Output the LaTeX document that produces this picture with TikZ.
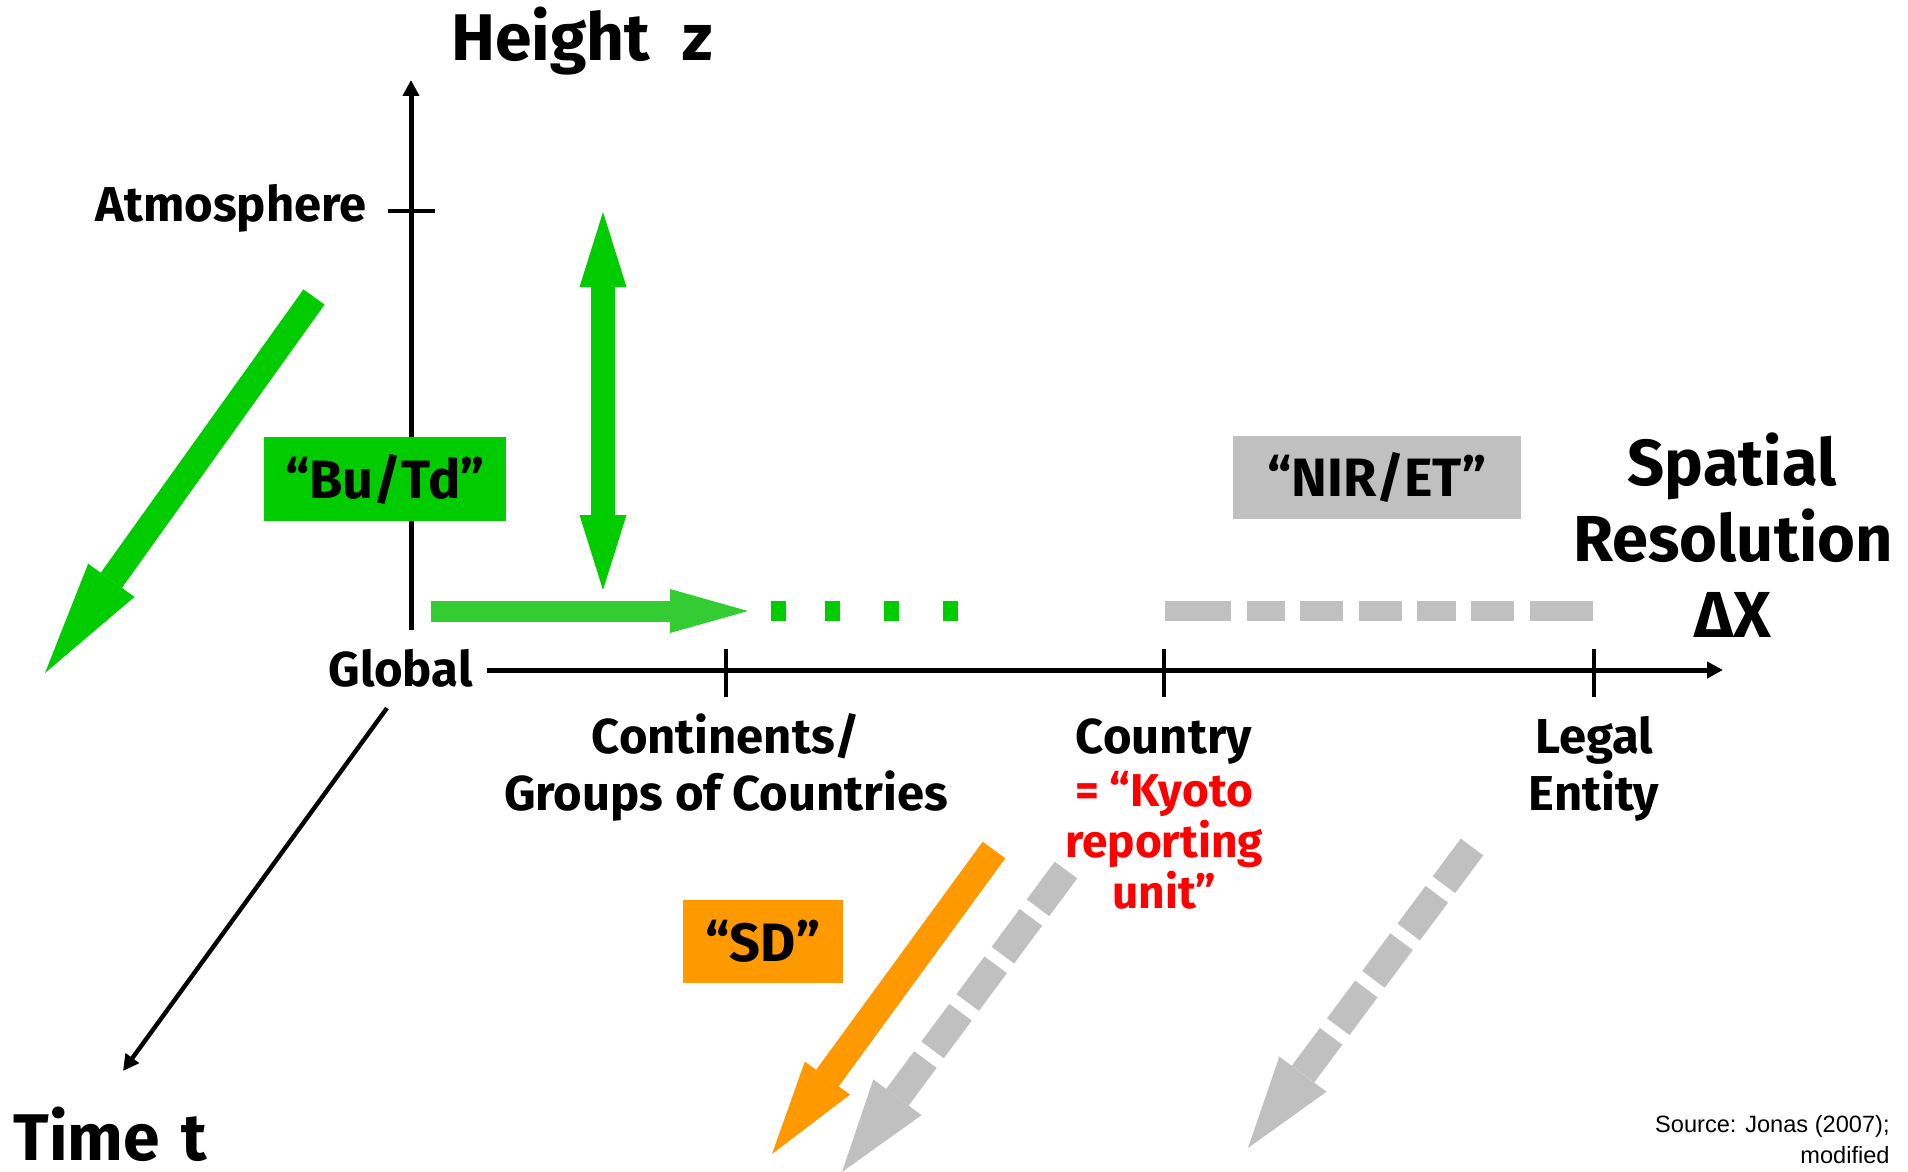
\documentclass[tikz,border=0pt]{standalone}
\usepackage{fontspec}
\setmainfont{Fira Sans}
\newfontfamily\srcfont{Liberation Sans}
\usetikzlibrary{calc,arrows.meta}
\definecolor{bgreen}{HTML}{00CC00}
\definecolor{lgreen}{HTML}{33CC33}
\definecolor{lgrey}{HTML}{C0C0C0}
\definecolor{orng}{HTML}{FF9900}
\definecolor{kred}{HTML}{FF0000}
% start, tip, shaft width, half head width, head length, colour, shaft options
\newcommand\fatarrow[7]{%
  \path ($(#2)!#5!(#1)$) coordinate (fab);
  \draw[#6, line width=#3, #7] (#1) -- (fab);
  \fill[#6] ($(fab)!#4!90:(#2)$) -- (#2) -- ($(fab)!#4!-90:(#2)$) -- cycle;
}
\tikzset{
  lbl/.style={font=\bfseries\fontsize{24.5}{29}\selectfont, inner sep=0pt},
  redlbl/.style={font=\bfseries\fontsize{23}{28}\selectfont, inner sep=0pt, text=kred},
  biglbl/.style={font=\bfseries\fontsize{33}{40}\selectfont, inner sep=0pt},
  xllbl/.style={font=\bfseries\fontsize{32.5}{40}\selectfont, inner sep=0pt},
  boxlbl/.style={font=\bfseries\fontsize{27}{32}\selectfont, inner sep=0pt},
  axis/.style={black, line width=2.5pt, -{Triangle[length=8pt,width=8pt]}},
  tick/.style={black, line width=2pt},
  srclbl/.style={font=\srcfont\fontsize{11.8}{14}\selectfont, inner sep=0pt, anchor=base east},
}
\begin{document}
\begin{tikzpicture}[x=0.5pt,y=-0.5pt]
\useasboundingbox (0,0) rectangle (1908,1172);
\fill[white] (0,0) rectangle (1908,1172);

% axes
\coordinate (zbot) at (411,630);
\coordinate (ztop) at (411,80);
\coordinate (xl) at (487,670);
\coordinate (xr) at (1723,670);
\coordinate (tstart) at (387,708);
\coordinate (tend) at (123,1071);
\draw[axis] (zbot) -- (ztop);
\draw[axis] (xl) -- (xr);
\draw[axis, line width=2.2pt] (tstart) -- (tend);
\coordinate (atmL) at (388,211);
\coordinate (atmR) at (435,211);
\draw[tick] (atmL) -- (atmR);
\foreach \x/\n in {726/a,1164/b,1594/c}{
  \coordinate (tk\n1) at (\x,649);
  \coordinate (tk\n2) at (\x,697);
  \draw[tick] (tk\n1) -- (tk\n2);
}

% axis labels
\node[biglbl, anchor=base west] (hz) at (451,61) {Height\hspace{8.5pt} z};
\node[lbl, anchor=base east] (atm) at (367,221) {Atmosphere};
\node[lbl, anchor=base west] (glob) at (328,686) {Global};
\node[biglbl, anchor=base west] (tt) at (13,1160) {Time\hspace{3pt} t};
\node[xllbl, anchor=base] (sp1) at (1732,485) {Spatial};
\node[xllbl, anchor=base] (sp2) at (1733,561) {Resolution};
\node[xllbl, anchor=base] (sp3) at (1733,637) {ΔX};
\node[lbl, anchor=base] (c1) at (726,753) {Continents/};
\node[lbl, anchor=base] (c2) at (726,810) {Groups of Countries};
\node[lbl, anchor=base] (k1) at (1164,753) {Country};
\node[redlbl, anchor=base] (k2) at (1164,806) {= “Kyoto};
\node[redlbl, anchor=base] (k3) at (1164,857) {reporting};
\node[redlbl, anchor=base] (k4) at (1164,908) {unit”};
\node[lbl, anchor=base] (l1) at (1594,753) {Legal};
\node[lbl, anchor=base] (l2) at (1594,810) {Entity};

% boxes
\node[boxlbl, fill=bgreen, minimum width=121pt, minimum height=42pt] (butd) at (385,479) {“Bu/Td”};
\node[boxlbl, fill=lgrey, minimum width=144pt, minimum height=41.5pt] (nir) at (1377,477.5) {“NIR/ET”};
\node[boxlbl, fill=orng, minimum width=80pt, minimum height=41.5pt] (sd) at (763,941.5) {“SD”};

% green horizontal arrow and dots
\coordinate (hs) at (431,611);
\coordinate (ht) at (748,611);
\fatarrow{hs}{ht}{10.5pt}{11pt}{39pt}{lgreen}{}
\foreach \x in {778.5,832.5,891,950.5}{
  \fill[bgreen] (\x-7.5,601) rectangle (\x+7.5,621);
}
% grey dashes along axis
\foreach \a/\b in {1165/1231,1247/1285,1300/1343,1359/1402,1417/1456,1471/1514,1530/1593}{
  \fill[lgrey] (\a,601) rectangle (\b,621);
}

% vertical double green arrow
\coordinate (vt) at (603,212);
\coordinate (vb) at (603,590);
\coordinate (vt2) at (603,287);
\coordinate (vb2) at (603,515);
\draw[bgreen, line width=12pt] (vt2) -- (vb2);
\fill[bgreen] (579.5,287) -- (vt) -- (626.5,287) -- cycle;
\fill[bgreen] (579.5,515) -- (vb) -- (626.5,515) -- cycle;

% left green diagonal arrow
\coordinate (gs) at (314,297);
\coordinate (gt) at (45,673);
\fatarrow{gs}{gt}{13pt}{14.25pt}{57pt}{bgreen}{}

% orange arrow
\coordinate (os) at (994,850);
\coordinate (ot) at (772,1154);
\fatarrow{os}{ot}{14pt}{14pt}{47pt}{orng}{}

% grey dashed arrows
\coordinate (g1s) at (1066,870);
\coordinate (g1t) at (842,1172);
\fatarrow{g1s}{g1t}{14pt}{15pt}{46.5pt}{lgrey}{dash pattern=on 23.5pt off 6pt}
\coordinate (g2s) at (1472,847);
\coordinate (g2t) at (1248,1148);
\fatarrow{g2s}{g2t}{14pt}{14.7pt}{46pt}{lgrey}{dash pattern=on 23.5pt off 6pt}

% source
\node[srclbl] (src1) at (1890,1132) {Source: Jonas (2007);};
\node[srclbl] (src2) at (1890,1163) {modified};
\end{tikzpicture}
\end{document}
